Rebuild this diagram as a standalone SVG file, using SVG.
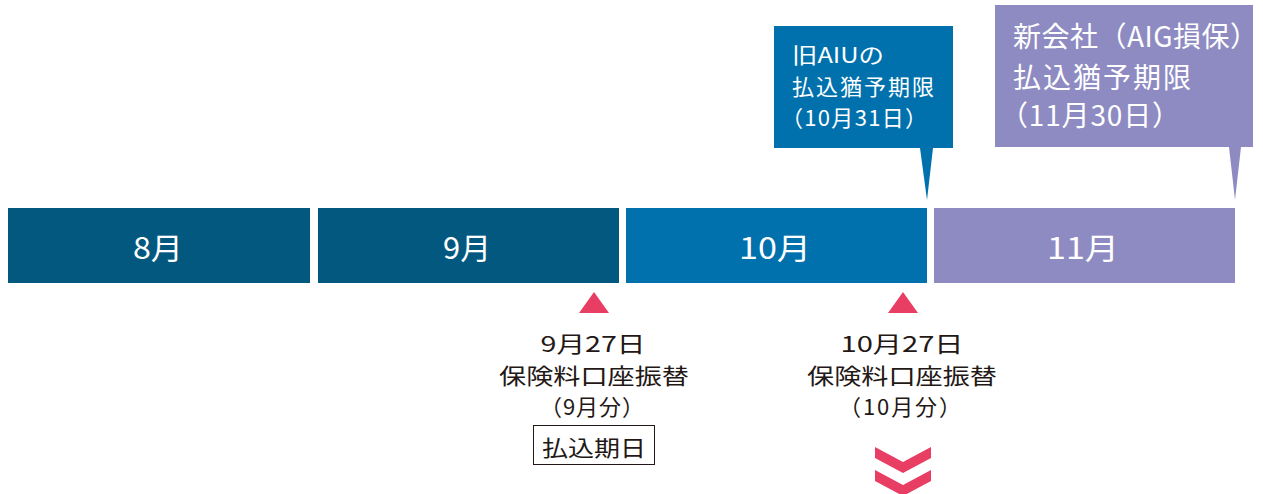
<svg xmlns="http://www.w3.org/2000/svg" width="1263" height="494" viewBox="0 0 1263 494">
<style>
text{font-family:"Noto Sans CJK JP","Noto Sans",sans-serif;font-weight:400;}
.m{fill:#fff;font-size:30px;text-anchor:middle;}
.c1{fill:#fff;font-size:22px;}
.c2{fill:#fff;font-size:28px;}
.b{fill:#231815;font-size:22px;text-anchor:middle;}
.tri{fill:#e83e64;}
</style>
<rect width="1263" height="494" fill="#fff"/>
<g id="m8"><rect x="8" y="208" width="302" height="75" fill="#02587f"/><text class="m" x="158" y="259" textLength="50" lengthAdjust="spacingAndGlyphs">8月</text></g>
<g id="m9"><rect x="318" y="208" width="301" height="75" fill="#02587f"/><text class="m" x="467" y="259" textLength="48" lengthAdjust="spacingAndGlyphs">9月</text></g>
<g id="m10"><rect x="626" y="208" width="301" height="75" fill="#0071ad"/><text class="m" x="775" y="259" textLength="72" lengthAdjust="spacingAndGlyphs">10月</text></g>
<g id="m11"><rect x="934" y="208" width="301" height="75" fill="#8e8bc2"/><text class="m" x="1083" y="259" textLength="72" lengthAdjust="spacingAndGlyphs">11月</text></g>
<g id="callout1">
<path d="M774 26H953V148H933L927 200L920 148H774Z" fill="#0071ad"/>
<text class="c1" x="792" y="63" textLength="92" lengthAdjust="spacingAndGlyphs">旧AIUの</text>
<text class="c1" x="792" y="95" textLength="142" lengthAdjust="spacing">払込猶予期限</text>
<text class="c1" x="781" y="126" textLength="146" lengthAdjust="spacing">（10月31日）</text>
</g>
<g id="callout2">
<path d="M995 5H1253V147H1241L1235 200L1229 147H995Z" fill="#8e8bc2"/>
<text class="c2" x="1013" y="47" textLength="245" lengthAdjust="spacing">新会社（AIG損保）</text>
<text class="c2" x="1013" y="88" textLength="178" lengthAdjust="spacing">払込猶予期限</text>
<text class="c2" x="1000" y="126" textLength="180" lengthAdjust="spacing">（11月30日）</text>
</g>
<g id="event1">
<polygon class="tri" points="594,292 609,313 579,313"/>
<text class="b" x="593" y="352" textLength="105" lengthAdjust="spacingAndGlyphs">9月27日</text>
<text class="b" x="594" y="384" textLength="190" lengthAdjust="spacingAndGlyphs">保険料口座振替</text>
<text class="b" x="592" y="415" textLength="104" lengthAdjust="spacing">（9月分）</text>
<rect x="533.5" y="425.5" width="121" height="39" fill="none" stroke="#231815" stroke-width="1"/>
<text class="b" x="594" y="456" textLength="104" lengthAdjust="spacingAndGlyphs">払込期日</text>
</g>
<g id="event2">
<polygon class="tri" points="903,292 918,313 888,313"/>
<text class="b" x="902" y="352" textLength="123" lengthAdjust="spacingAndGlyphs">10月27日</text>
<text class="b" x="902" y="384" textLength="190" lengthAdjust="spacingAndGlyphs">保険料口座振替</text>
<text class="b" x="900" y="415" textLength="122" lengthAdjust="spacing">（10月分）</text>
</g>
<g id="connectors">
<polygon class="tri" points="875,447 903,462 931,447 931,458 903,473 875,458"/>
<polygon class="tri" points="875,470 903,485 931,470 931,481 903,496 875,481"/>
</g>
</svg>
